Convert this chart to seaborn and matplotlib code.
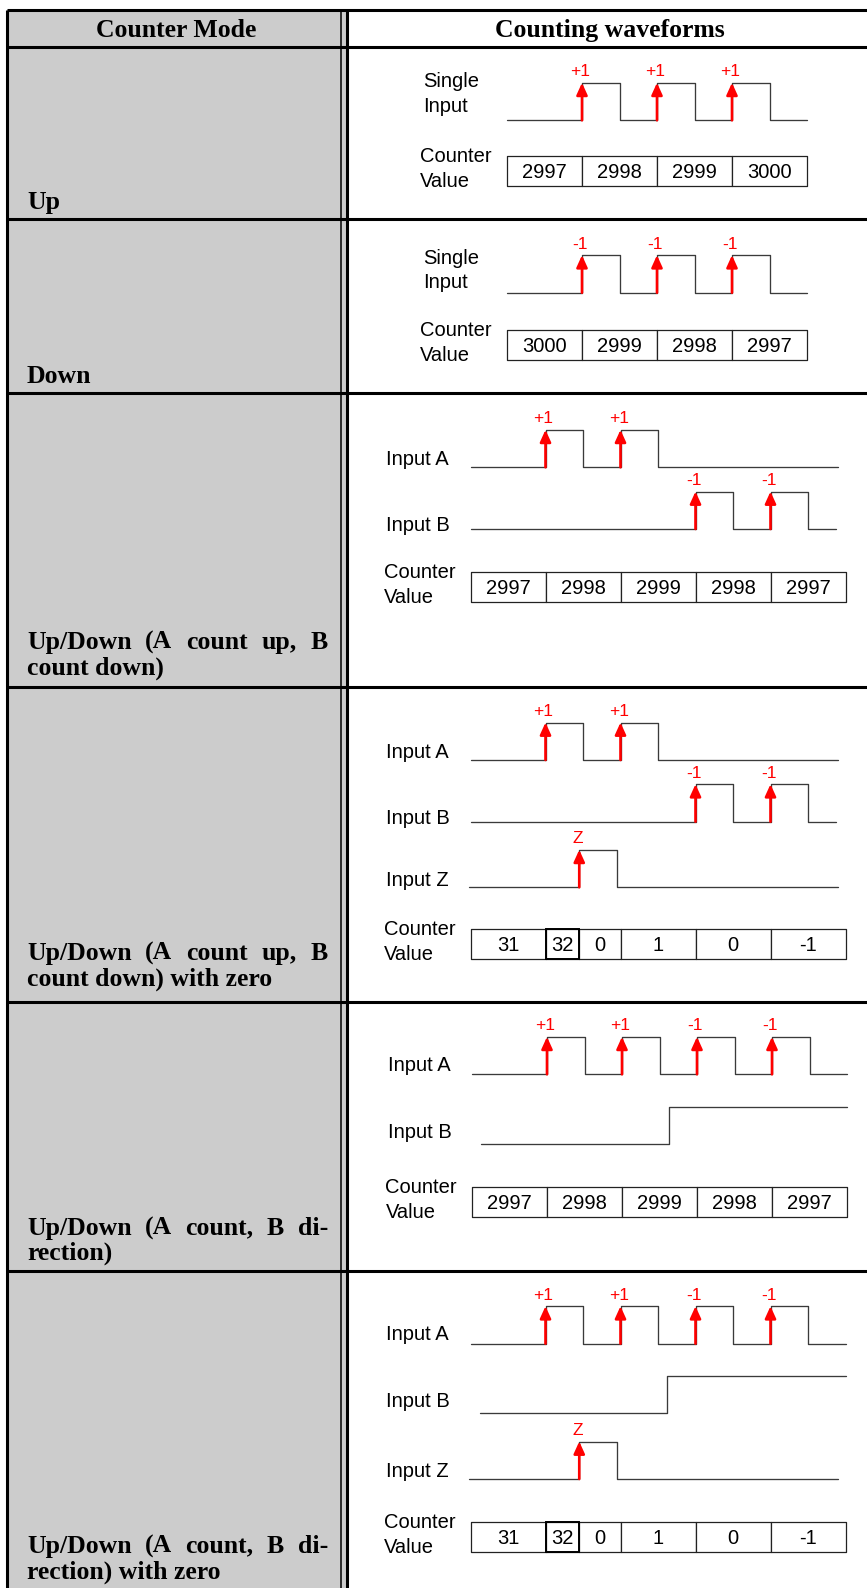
import matplotlib
matplotlib.use("Agg")
import matplotlib.pyplot as plt
import seaborn as sns
from matplotlib.patches import Rectangle

# ---------------- data ----------------
header = ["Counter Mode", "Counting waveforms"]
mode_names = [
    ["Up"],
    ["Down"],
    ["Up/Down (A count up, B", "count down)"],
    ["Up/Down (A count up, B", "count down) with zero"],
    ["Up/Down (A count, B di-", "rection)"],
    ["Up/Down (A count, B di-", "rection) with zero"],
]

# signal levels over time (time in half periods, level 0 = low, 1 = high)
single_t = [0, 2, 3, 4, 5, 6, 7, 8]
single_v = [0, 1, 0, 1, 0, 1, 0, 0]
a_updown_t = [0, 2, 3, 4, 5, 9.8]
a_updown_v = [0, 1, 0, 1, 0, 0]
b_updown_t = [0, 6, 7, 8, 9, 9.75]
b_updown_v = [0, 1, 0, 1, 0, 0]
z_t = [-0.05, 2.9, 3.9, 9.8]
z_v = [0, 1, 0, 0]
a_dir_t = [0, 2, 3, 4, 5, 6, 7, 8, 9, 10]
a_dir_v = [0, 1, 0, 1, 0, 1, 0, 1, 0, 0]
b_dir_t = [0.25, 5.25, 10]
b_dir_v = [0, 1, 1]

# counting edges and their marks
single_edges = [2, 4, 6]
up_marks = ["+1", "+1", "+1"]
down_marks = ["-1", "-1", "-1"]
a_up_edges = [2, 4]
a_up_marks = ["+1", "+1"]
b_down_edges = [6, 8]
b_down_marks = ["-1", "-1"]
z_edges = [2.9]
z_marks = ["Z"]
a_dir_edges = [2, 4, 6, 8]
a_dir_marks = ["+1", "+1", "-1", "-1"]
no_edges = []
no_marks = []

# counter value cells (boundaries in half periods) and values
cells4 = [0, 2, 4, 6, 8]
up_values = ["2997", "2998", "2999", "3000"]
down_values = ["3000", "2999", "2998", "2997"]
cells5 = [0, 2, 4, 6, 8, 10]
updown_values = ["2997", "2998", "2999", "2998", "2997"]
cells_zero = [0, 2, 2.9, 4, 6, 8, 10]
zero_values = ["31", "32", "0", "1", "0", "-1"]

# ---------------- layout (pixels) ----------------
W, H = 867, 1588
COL = 346.5
U = 37.5          # px per half period
AMP = 37.5        # pulse height
BOX_H = 30
GRAY = "#cccccc"
WAVE = "#3a3a3a"
RED = "#ff0000"

rows = [
    dict(top=46.7, bottom=219, x0=507, lx=423, cx=420, box=155.7,
         lanes=[(["Single", "Input"], [80, 105], 120.3, single_t, single_v, single_edges, up_marks)],
         cells=cells4, values=up_values, hl=None, text_y=[201.5]),
    dict(top=219, bottom=393, x0=507, lx=423, cx=420, box=330,
         lanes=[(["Single", "Input"], [256.7, 281], 292.7, single_t, single_v, single_edges, down_marks)],
         cells=cells4, values=down_values, hl=None, text_y=[374.7]),
    dict(top=393, bottom=687, x0=470.5, lx=386, cx=384, box=571.7,
         lanes=[(["Input A"], [458], 467.3, a_updown_t, a_updown_v, a_up_edges, a_up_marks),
                (["Input B"], [524], 529, b_updown_t, b_updown_v, b_down_edges, b_down_marks)],
         cells=cells5, values=updown_values, hl=None, text_y=[641, 667]),
    dict(top=687, bottom=1001.5, x0=470.5, lx=386, cx=384, box=929.3,
         lanes=[(["Input A"], [750.7], 760, a_updown_t, a_updown_v, a_up_edges, a_up_marks),
                (["Input B"], [816.7], 821.7, b_updown_t, b_updown_v, b_down_edges, b_down_marks),
                (["Input Z"], [879], 887.3, z_t, z_v, z_edges, z_marks)],
         cells=cells_zero, values=zero_values, hl=1, text_y=[952, 978]),
    dict(top=1001.5, bottom=1270.5, x0=472, lx=388, cx=385.5, box=1187,
         lanes=[(["Input A"], [1064], 1074.3, a_dir_t, a_dir_v, a_dir_edges, a_dir_marks),
                (["Input B"], [1130.7], 1144, b_dir_t, b_dir_v, no_edges, no_marks)],
         cells=cells5, values=updown_values, hl=None, text_y=[1227, 1252]),
    dict(top=1270.5, bottom=H, x0=470.5, lx=386, cx=384, box=1521.7,
         lanes=[(["Input A"], [1333.3], 1343.7, a_dir_t, a_dir_v, a_dir_edges, a_dir_marks),
                (["Input B"], [1400], 1413, b_dir_t, b_dir_v, no_edges, no_marks),
                (["Input Z"], [1470], 1479, z_t, z_v, z_edges, z_marks)],
         cells=cells_zero, values=zero_values, hl=1, text_y=[1545, 1571]),
]

sns.set_style("white")
plt.rcParams["font.family"] = ["Liberation Sans", "DejaVu Sans"]

serif = dict(family="Liberation Serif", fontweight="bold", fontsize=18.5, color="black")
sans = dict(family="Liberation Sans", fontsize=14.5, color="black")
mark = dict(family="Liberation Sans", fontsize=12.5, color=RED)

fig = plt.figure(figsize=(W / 100, H / 100), dpi=100)
bg = fig.add_axes([0, 0, 1, 1])
bg.set_xlim(0, W)
bg.set_ylim(H, 0)
bg.set_axis_off()

# table background and grid
bg.add_patch(Rectangle((7, 10), COL - 7, H - 10, facecolor=GRAY, edgecolor="none"))
bg.plot([7, W], [10, 10], color="black", lw=2.2, solid_capstyle="butt")
bg.plot([7, 7], [10, H], color="black", lw=2.2, solid_capstyle="butt")
bg.plot([341, 341], [10, H], color="black", lw=1.1, solid_capstyle="butt")
bg.plot([COL, COL], [10, H], color="black", lw=2.2, solid_capstyle="butt")
for y in [46.7] + [r["bottom"] for r in rows[:-1]]:
    bg.plot([7, W], [y, y], color="black", lw=2.2, solid_capstyle="butt")

bg.text(176, 37, header[0], ha="center", va="baseline", **serif)
bg.text(610, 37, header[1], ha="center", va="baseline", **serif)

renderer = fig.canvas.get_renderer()


def put_line(words_line, y, justify):
    if not justify:
        bg.text(27, y, words_line, ha="left", va="baseline", **serif)
        return
    words = words_line.split(" ")
    texts = [bg.text(0, y, w, ha="left", va="baseline", **serif) for w in words]
    widths = [t.get_window_extent(renderer).width for t in texts]
    gap = (328 - 27 - sum(widths)) / (len(words) - 1)
    x = 27
    for t, w in zip(texts, widths):
        t.set_x(x)
        x += w + gap


for r, name in zip(rows, mode_names):
    for i, (line, yc) in enumerate(zip(name, r["text_y"])):
        put_line(line, yc + 8, justify=(i < len(name) - 1))

    ax = fig.add_axes([COL / W, 1 - r["bottom"] / H, (W - COL) / W, (r["bottom"] - r["top"]) / H])
    ax.set_axis_off()
    ax.patch.set_visible(False)

    for names, label_ys, low, t, v, edges, marks in r["lanes"]:
        for nm, ly in zip(names, label_ys):
            bg.text(r["lx"], ly + 7, nm, ha="left", va="baseline", **sans)
        y = [low - AMP * val for val in v]
        sns.lineplot(x=t, y=y, ax=ax, drawstyle="steps-post", color=WAVE,
                     linewidth=0.95, sort=False, estimator=None)
        for e, m in zip(edges, marks):
            ax.annotate("", xy=(e, low - AMP), xytext=(e, low),
                        arrowprops=dict(arrowstyle="-|>,head_length=0.55,head_width=0.25",
                                        color=RED, lw=1.9, shrinkA=0, shrinkB=0,
                                        mutation_scale=13))
            ax.text(e - 0.05, low - AMP - 6.5, m, ha="center", va="baseline", **mark)

    bg.text(r["cx"], r["box"] - 1 + 7, "Counter", ha="left", va="baseline", **sans)
    bg.text(r["cx"], r["box"] + 24 + 7, "Value", ha="left", va="baseline", **sans)

    c = r["cells"]
    ax.broken_barh([(c[i], c[i + 1] - c[i]) for i in range(len(c) - 1)],
                   (r["box"], BOX_H), facecolors="white", edgecolors="#222222", linewidth=0.9)
    if r["hl"] is not None:
        k = r["hl"]
        ax.add_patch(Rectangle((c[k], r["box"]), c[k + 1] - c[k], BOX_H,
                               facecolor="none", edgecolor="black", lw=1.4))
    for i, val in enumerate(r["values"]):
        ax.text((c[i] + c[i + 1]) / 2, r["box"] + BOX_H / 2 + 7, val,
                ha="center", va="baseline", **sans)

    ax.set_xlim((COL - r["x0"]) / U, (W - r["x0"]) / U)
    ax.set_ylim(r["bottom"], r["top"])

fig.savefig("out.png", dpi=100)
